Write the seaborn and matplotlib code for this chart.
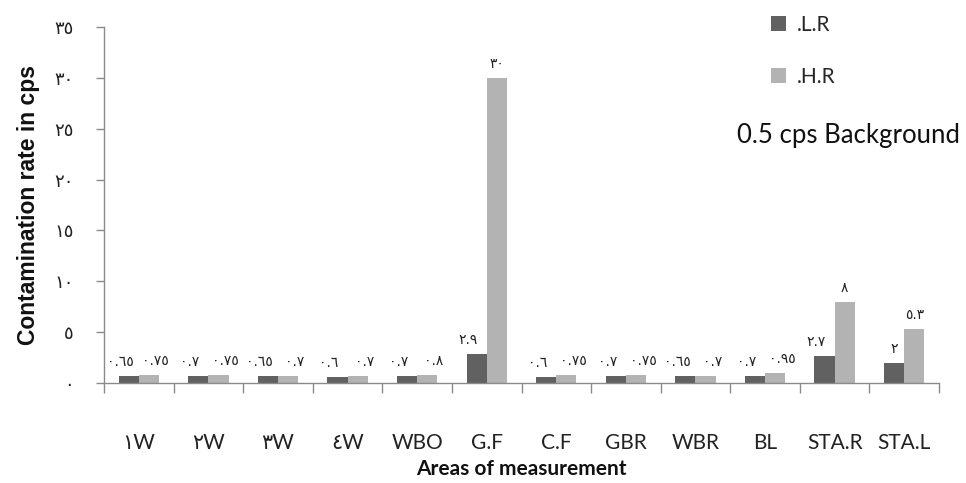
import numpy as np
import pandas as pd
import seaborn as sns
import matplotlib
matplotlib.use("Agg")
import matplotlib.pyplot as plt
from matplotlib.patches import Patch

# Measurement areas and contamination rates (cps)
areas = ["١W", "٢W", "٣W", "٤W", "WBO", "G.F", "C.F", "GBR", "WBR", "BL", "STA.R", "STA.L"]
low_rate = [0.65, 0.7, 0.65, 0.6, 0.7, 2.9, 0.6, 0.7, 0.65, 0.7, 2.7, 2.0]
high_rate = [0.75, 0.75, 0.7, 0.7, 0.8, 30, 0.75, 0.75, 0.7, 0.95, 8, 5.3]
series_names = [".L.R", ".H.R"]
y_ticks = [0, 5, 10, 15, 20, 25, 30, 35]

ARABIC_DIGITS = str.maketrans("0123456789", "٠١٢٣٤٥٦٧٨٩")


def to_arabic(v):
    s = f"{v:g}"
    return s.translate(ARABIC_DIGITS)


df = pd.DataFrame({
    "area": areas * 2,
    "rate": low_rate + high_rate,
    "series": [series_names[0]] * len(areas) + [series_names[1]] * len(areas),
})

sns.set_style("white")
plt.rcParams["font.family"] = ["DejaVu Sans"]

colors = {".L.R": "#616161", ".H.R": "#b3b3b3"}

fig = plt.figure(figsize=(9.66, 4.83), dpi=100)
ax = fig.add_axes([104 / 966, 1 - 383 / 483, (939 - 104) / 966, (383 - 27) / 483])

sns.barplot(data=df, x="area", y="rate", hue="series", order=areas,
            hue_order=series_names, palette=colors, width=0.58,
            edgecolor="none", ax=ax, legend=False)

ax.set_ylim(0, 35)
ax.set_xlim(-0.5, len(areas) - 0.5)

# Value labels above each bar; decimal labels are nudged apart so neighbours don't collide
for cont, sname, side in zip(ax.containers, series_names, [-1, 1]):
    for bar, val in zip(cont, df[df.series == sname]["rate"]):
        label = to_arabic(val)
        if side < 0:
            shift = -6 if len(label) >= 3 else 0
        else:
            shift = 5 if (len(label) >= 3 and val < 2) else 0
        ax.annotate(label,
                    (bar.get_x() + bar.get_width() / 2, bar.get_height()),
                    xytext=(shift, 5), textcoords="offset points",
                    ha="center", va="bottom", fontsize=10, color="#222222",
                    family=["DejaVu Sans"])

# Axes styling
for side in ["top", "right"]:
    ax.spines[side].set_visible(False)
for side in ["left", "bottom"]:
    ax.spines[side].set_color("#8a8a8a")
    ax.spines[side].set_linewidth(1.0)

ax.set_yticks(y_ticks)
ax.set_yticklabels([to_arabic(t) for t in y_ticks], fontsize=13, color="#222222")
ax.tick_params(axis="y", which="major", direction="out", length=6, width=1,
               color="#8a8a8a", pad=16, left=True)

ax.set_xticks(range(len(areas)))
ax.set_xticklabels(areas, fontsize=15, color="#222222",
                   family=["Lato", "DejaVu Sans"])
ax.tick_params(axis="x", which="major", length=0, pad=36)
ax.set_xticks(np.arange(-0.5, len(areas), 1.0), minor=True)
ax.tick_params(axis="x", which="minor", direction="out", length=7.5, width=1,
               color="#8a8a8a", bottom=True)

ax.set_xlabel("Areas of measurement", fontsize=15, fontweight="bold",
              family=["Lato", "DejaVu Sans"], labelpad=4, color="#111111")
ax.set_ylabel("Contamination rate in cps", fontsize=16.5, fontweight="bold",
              family=["Liberation Sans", "DejaVu Sans"], labelpad=10,
              color="#111111")

# Legend and background note
handles = [Patch(facecolor=colors[n], edgecolor="none", label=n) for n in series_names]
fig.legend(handles=handles, loc="upper left", bbox_to_anchor=(752 / 966, 1 + 4 / 483),
           frameon=False, handlelength=0.75, handleheight=0.75, handletextpad=0.5,
           labelspacing=1.55, prop={"family": ["Lato", "DejaVu Sans"], "size": 15})
fig.text(737 / 966, 1 - 135 / 483, "0.5 cps Background", fontsize=18.5,
         family=["Lato", "DejaVu Sans"], va="center", ha="left", color="#111111")

fig.savefig("out.png", dpi=100)
